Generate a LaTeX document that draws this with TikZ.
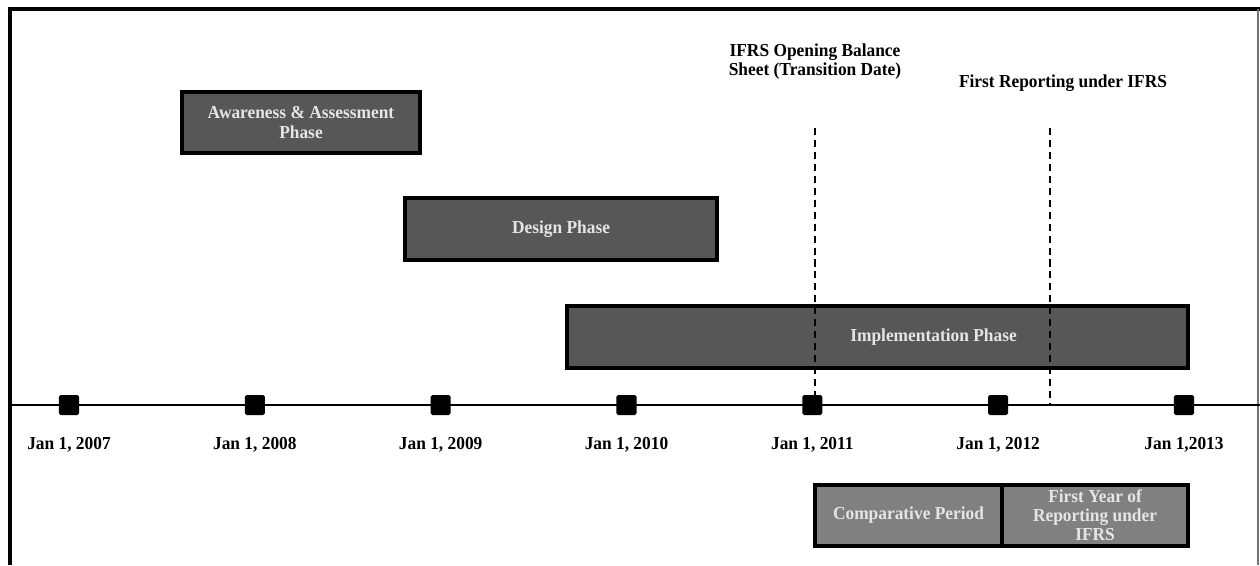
\documentclass[tikz,border=0pt]{standalone}
\usepackage{fontspec}
\setmainfont[FakeStretch=0.95]{Liberation Serif}
\usetikzlibrary{positioning}

\begin{document}
\begin{tikzpicture}[x=0.025cm, y=-0.025cm,
  phase/.style = {draw, line width=2.6pt, outer sep=0pt, fill=black!66, text=black!10,
    font=\fontsize{13}{14.5}\selectfont\bfseries, align=center, inner sep=0pt},
  period/.style = {phase, fill=black!50, font=\fontsize{13}{13.5}\selectfont\bfseries},
  tick/.style = {fill=black, minimum size=0.5cm, inner sep=0pt, rounded corners=1.2pt},
  date/.style = {font=\fontsize{13}{14}\selectfont\bfseries},
  note/.style = {font=\fontsize{13}{13.5}\selectfont\bfseries, align=center},
  marker/.style = {line width=1.4pt, dash pattern=on 5pt off 3.5pt}]
\useasboundingbox (0,0) rectangle (1260,565);

% frame
\draw[line width=2.2pt] (10,565) -- (10,9) -- (1260,9);
\draw[black!55, line width=0.8pt] (1258,9) -- (1258,565);

% time axis
\coordinate (start) at (10,405);
\coordinate (end)   at (1260,405);
\draw[line width=1.4pt] (start) -- (end);

\foreach \yr/\lbl [count=\i from 0] in {2007/{Jan 1, 2007}, 2008/{Jan 1, 2008}, 2009/{Jan 1, 2009},
    2010/{Jan 1, 2010}, 2011/{Jan 1, 2011}, 2012/{Jan 1, 2012}, 2013/{Jan 1,2013}} {
  \node[tick] (t\yr) at (69+185.83*\i,405) {};
  \node[date] (d\yr) at (69+185.83*\i,445) {\lbl};
}

% phases
\node[phase, minimum width=5.95cm, minimum height=1.525cm] (aware) at (301,122.5)
  {Awareness \& Assessment\\Phase};
\node[phase, minimum width=7.8cm, minimum height=1.55cm] (design) at (561,229) {Design Phase};
\node[phase, minimum width=15.525cm, minimum height=1.55cm] (impl) at (877.5,337) {};
\node[phase, draw=none, fill=none] (implText) at ([xshift=1.4cm]impl.center) {Implementation Phase};

% reporting periods
\node[period, minimum width=4.675cm, minimum height=1.525cm] (comp) at (908.5,515.5)
  {Comparative Period};
\node[period, minimum width=4.65cm, minimum height=1.525cm, right=0pt of comp] (first)
  {First Year of\\Reporting under\\IFRS};

% key dates
\node[note] (opening) at (815,62) {IFRS Opening Balance\\Sheet (Transition Date)};
\node[note] (report)  at (1063,83) {First Reporting under IFRS};
\coordinate (openTop)   at (815,128);
\coordinate (reportTop) at (1050,128);
\draw[marker] (openTop) -- (openTop |- start);
\draw[marker] (reportTop) -- (reportTop |- start);

\end{tikzpicture}
\end{document}
